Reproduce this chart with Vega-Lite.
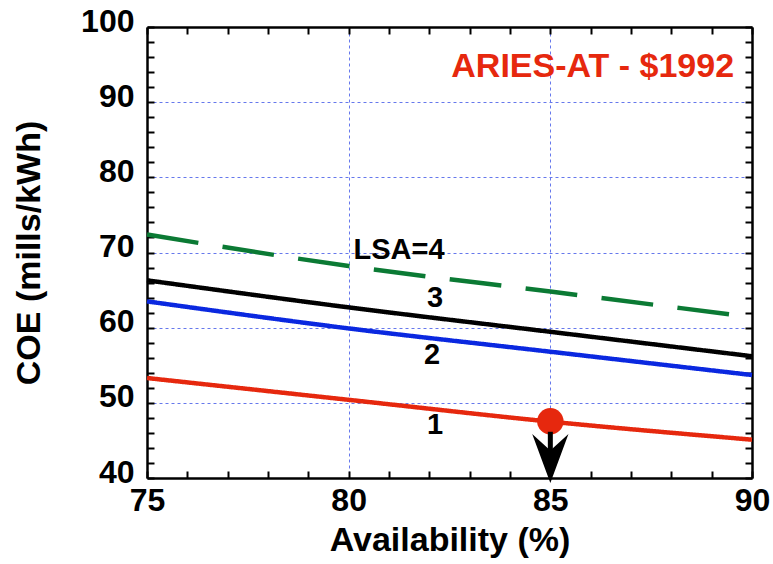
{
  "$schema": "https://vega.github.io/schema/vega-lite/v6.json",
  "width": 605,
  "height": 451,
  "autosize": "none",
  "padding": {"left": 147, "top": 27, "right": 21, "bottom": 86},
  "background": "white",
  "config": {
    "view": {"stroke": null},
    "font": "Liberation Sans",
    "text": {"font": "Liberation Sans", "fontWeight": "bold"}
  },
  "datasets": {
    "curves": [
      {"lsa": "1", "availability": 75, "coe": 53.3},
      {"lsa": "1", "availability": 80, "coe": 50.4},
      {"lsa": "1", "availability": 85, "coe": 47.5},
      {"lsa": "1", "availability": 90, "coe": 45.1},
      {"lsa": "2", "availability": 75, "coe": 63.5},
      {"lsa": "2", "availability": 80, "coe": 59.9},
      {"lsa": "2", "availability": 85, "coe": 56.8},
      {"lsa": "2", "availability": 90, "coe": 53.7},
      {"lsa": "3", "availability": 75, "coe": 66.3},
      {"lsa": "3", "availability": 80, "coe": 62.7},
      {"lsa": "3", "availability": 85, "coe": 59.45},
      {"lsa": "3", "availability": 90, "coe": 56.2},
      {"lsa": "4", "availability": 75, "coe": 72.4},
      {"lsa": "4", "availability": 80, "coe": 68.2},
      {"lsa": "4", "availability": 85, "coe": 64.8},
      {"lsa": "4", "availability": 90, "coe": 61.4}
    ],
    "labels": [
      {"availability": 81.25, "coe": 69.1, "label": "LSA=4"},
      {"availability": 82.14, "coe": 62.8, "label": "3"},
      {"availability": 82.07, "coe": 55.2, "label": "2"},
      {"availability": 82.14, "coe": 45.9, "label": "1"}
    ],
    "title": [
      {"availability": 86.05, "coe": 93.3, "label": "ARIES-AT - $1992"}
    ],
    "marker": [
      {"availability": 85, "coe": 47.55, "shaftTop": 46.15, "shaftBottom": 43.4, "head": 42.59}
    ]
  },
  "layer": [
    {
      "data": {"name": "curves"},
      "mark": {"type": "line", "strokeWidth": 4.5, "interpolate": "monotone", "strokeCap": "butt"},
      "encoding": {
        "x": {
          "field": "availability", "type": "quantitative",
          "scale": {"domain": [75, 90], "nice": false, "zero": false},
          "axis": {
            "orient": "bottom",
            "values": [75, 76, 77, 78, 79, 80, 81, 82, 83, 84, 85, 86, 87, 88, 89, 90],
            "labelExpr": "datum.value % 5 === 0 ? datum.label : ''",
            "labelFlush": false,
            "labelFont": "Liberation Sans", "labelFontSize": 32, "labelFontWeight": "bold", "labelColor": "black",
            "labelPadding": 14,
            "tickSize": -7, "tickWidth": 2, "tickColor": "black",
            "domainColor": "black", "domainWidth": 2.5,
            "grid": true, "gridColor": "#6678ec", "gridDash": [3, 3], "gridWidth": 1,
            "gridOpacity": {"condition": {"test": "datum.value === 80 || datum.value === 85", "value": 1}, "value": 0},
            "title": "Availability (%)",
            "titleFont": "Liberation Sans", "titleFontSize": 34, "titleFontWeight": "bold", "titleColor": "black",
            "titlePadding": 7
          }
        },
        "y": {
          "field": "coe", "type": "quantitative",
          "scale": {"domain": [40, 100], "nice": false, "zero": false},
          "axis": {
            "orient": "left",
            "values": [40, 42, 44, 46, 48, 50, 52, 54, 56, 58, 60, 62, 64, 66, 68, 70, 72, 74, 76, 78, 80, 82, 84, 86, 88, 90, 92, 94, 96, 98, 100],
            "labelExpr": "datum.value % 10 === 0 ? datum.label : ''",
            "labelFlush": false,
            "labelFont": "Liberation Sans", "labelFontSize": 32, "labelFontWeight": "bold", "labelColor": "black",
            "labelPadding": 20, "labelOffset": -6,
            "tickSize": -7, "tickWidth": 2, "tickColor": "black",
            "domainColor": "black", "domainWidth": 2.5,
            "grid": true, "gridColor": "#6678ec", "gridDash": [3, 3], "gridWidth": 1,
            "gridOpacity": {"condition": {"test": "datum.value % 10 === 0 && datum.value > 40 && datum.value < 100", "value": 1}, "value": 0},
            "title": "COE (mills/kWh)",
            "titleFont": "Liberation Sans", "titleFontSize": 34, "titleFontWeight": "bold", "titleColor": "black",
            "titlePadding": 34
          }
        },
        "color": {
          "field": "lsa", "type": "nominal",
          "scale": {"domain": ["1", "2", "3", "4"], "range": ["#e6280e", "#0a28e0", "#000000", "#0b7a34"]},
          "legend": null
        },
        "strokeDash": {
          "field": "lsa", "type": "nominal",
          "scale": {"domain": ["1", "2", "3", "4"], "range": [[1, 0], [1, 0], [1, 0], [52, 24.5]]},
          "legend": null
        }
      }
    },
    {
      "data": {"name": "labels"},
      "mark": {"type": "text", "fontSize": 29, "fontWeight": "bold", "color": "black", "align": "center", "baseline": "alphabetic"},
      "encoding": {
        "x": {"field": "availability", "type": "quantitative", "axis": null},
        "y": {"field": "coe", "type": "quantitative", "axis": null},
        "text": {"field": "label"}
      }
    },
    {
      "data": {"name": "title"},
      "mark": {"type": "text", "fontSize": 34, "fontWeight": "bold", "color": "#e6280e", "align": "center", "baseline": "alphabetic"},
      "encoding": {
        "x": {"field": "availability", "type": "quantitative", "axis": null},
        "y": {"field": "coe", "type": "quantitative", "axis": null},
        "text": {"field": "label"}
      }
    },
    {
      "data": {"name": "marker"},
      "mark": {"type": "circle", "size": 700, "color": "#e6280e", "opacity": 1},
      "encoding": {
        "x": {"field": "availability", "type": "quantitative", "axis": null},
        "y": {"field": "coe", "type": "quantitative", "axis": null}
      }
    },
    {
      "data": {"name": "marker"},
      "mark": {"type": "rule", "strokeWidth": 5, "color": "black"},
      "encoding": {
        "x": {"field": "availability", "type": "quantitative", "axis": null},
        "y": {"field": "shaftTop", "type": "quantitative", "axis": null},
        "y2": {"field": "shaftBottom"}
      }
    },
    {
      "data": {"name": "marker"},
      "mark": {"type": "point", "shape": "M0,1L-0.74,-1L0,-0.33L0.74,-1Z", "filled": true, "color": "black", "opacity": 1, "size": 2400, "strokeWidth": 0},
      "encoding": {
        "x": {"field": "availability", "type": "quantitative", "axis": null},
        "y": {"field": "head", "type": "quantitative", "axis": null}
      }
    },
    {
      "data": {"name": "curves"},
      "mark": {"type": "point", "opacity": 0},
      "encoding": {
        "x": {
          "field": "availability", "type": "quantitative",
          "axis": {
            "orient": "top",
            "values": [75, 76, 77, 78, 79, 80, 81, 82, 83, 84, 85, 86, 87, 88, 89, 90],
            "labels": false, "title": null, "grid": false,
            "tickSize": -7, "tickWidth": 2, "tickColor": "black",
            "domainColor": "black", "domainWidth": 2.5
          }
        },
        "y": {
          "field": "coe", "type": "quantitative",
          "axis": {
            "orient": "right",
            "values": [40, 42, 44, 46, 48, 50, 52, 54, 56, 58, 60, 62, 64, 66, 68, 70, 72, 74, 76, 78, 80, 82, 84, 86, 88, 90, 92, 94, 96, 98, 100],
            "labels": false, "title": null, "grid": false,
            "tickSize": -7, "tickWidth": 2, "tickColor": "black",
            "domainColor": "black", "domainWidth": 2.5
          }
        }
      }
    }
  ],
  "resolve": {"axis": {"x": "independent", "y": "independent"}}
}
